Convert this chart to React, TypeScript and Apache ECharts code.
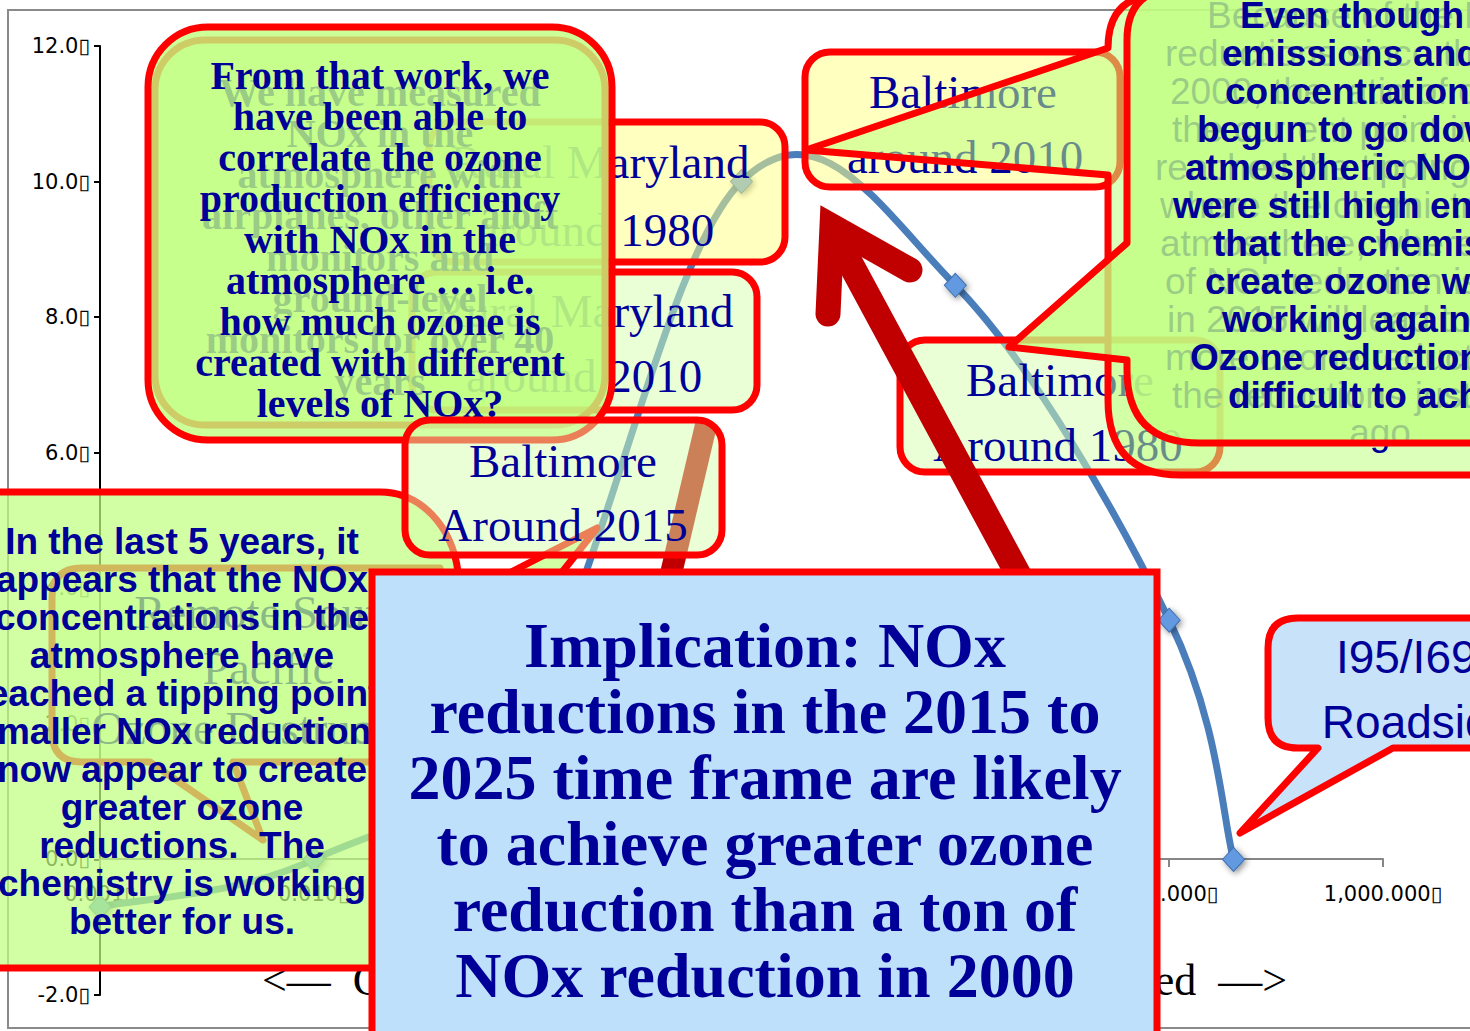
import React, { useEffect, useRef } from "react";
import * as echarts from "echarts";

// ---------------- data ----------------
const NOX_LEVELS = [0.001, 0.01, 0.1, 1, 10, 100, 200];
const OZONE_EFFICIENCY = [-0.7, 0, 2.3, 10, 8.47, 3.53, 0];
const Y_MIN = -2;
const Y_MAX = 12;
const Y_STEP = 2;
const X_MIN = 0.001;
const X_MAX = 1000;

const TOP_LEFT_TEXT = [
  "From that work, we",
  "have been able to",
  "correlate the ozone",
  "production efficiency",
  "with NOx in the",
  "atmosphere … i.e.",
  "how much ozone is",
  "created with different",
  "levels of NOx?",
];
const TOP_LEFT_OLD_TEXT = [
  "We have measured",
  "NOx in the",
  "atmosphere with",
  "airplanes, other aloft",
  "monitors and",
  "ground-level",
  "monitors for over 40",
  "years",
];
const LEFT_TEXT = [
  "In the last 5 years, it",
  "appears that the NOx",
  "concentrations in the",
  "atmosphere have",
  "reached a tipping point.",
  "Smaller NOx reductions",
  "now appear to create",
  "greater ozone",
  "reductions.  The",
  "chemistry is working",
  "better for us.",
];
const RIGHT_TEXT: [number, string][] = [
  [1240, "Even though NOx"],
  [1222, "emissions and"],
  [1225, "concentrations had"],
  [1197, "begun to go down,"],
  [1185, "atmospheric NOx levels"],
  [1173, "were still high enough"],
  [1213, "that the chemistry to"],
  [1205, "create ozone was"],
  [1222, "working against us."],
  [1190, "Ozone reductions were"],
  [1228, "difficult to achieve"],
];
const RIGHT_OLD_TEXT: [number, string][] = [
  [1207, "Because of the NOx"],
  [1165, "reductions since the"],
  [1170, "2000, the ratio of ozone"],
  [1172, "the current point in"],
  [1155, "reached the tipping point"],
  [1160, "where the chemistry in the"],
  [1160, "atmosphere, where each ton"],
  [1165, "of NOx reduction is more"],
  [1167, "in 2015 will lead to more"],
  [1165, "more ozone reduction than"],
  [1172, "the reductions just 15 years"],
];
const IMPLICATION_TEXT = [
  "Implication: NOx",
  "reductions in the 2015 to",
  "2025 time frame are likely",
  "to achieve greater ozone",
  "reduction than a ton of",
  "NOx reduction in 2000",
];

// ---------------- shapes ----------------
const SHAPES: Record<string, string> = {
  cbRightA:
    "M 1180 -12 L 1520 -12 L 1520 443 L 1200 443 Q 1127 443 1127 370 L 1127 360 L 1009 347 L 1127 243 L 1127 40 Q 1127 -12 1180 -12 Z",
  cbRightB:
    "M 1160 -5 L 1520 -5 L 1520 475 L 1180 475 Q 1108 475 1108 400 L 1108 175 L 806 150 L 1108 48 Q 1108 -5 1160 -5 Z",
  cbLeft:
    "M -20 492 L 380 492 C 420 492 452 525 458 572 L 472 592 L 597 528 L 540 600 L 540 968 L -20 968 Z",
  cbRemote:
    "M 82 568 L 440 568 L 440 762 L 233 762 L 263 840 L 150 762 L 82 762 Q 52 762 52 732 L 52 598 Q 52 568 82 568 Z",
  cbI95:
    "M 1298 618 L 1520 618 L 1520 748 L 1393 748 L 1240 833 L 1318 748 L 1298 748 Q 1268 748 1268 718 L 1268 648 Q 1268 618 1298 618 Z",
};
Object.keys(SHAPES).forEach((k) => {
  echarts.graphic.registerShape(k, echarts.graphic.extendPath(SHAPES[k], {}));
});

const NAVY = "#000099";
const RED = "#ff0000";
const SERIF = '"Liberation Serif", "Times New Roman", serif';
const SANS = '"Liberation Sans", Arial, sans-serif';
const AXISF = '"DejaVu Sans", sans-serif';

const GREEN_TOP = "rgba(192,255,128,0.8)";
const GREEN_LOW = "rgba(192,255,128,0.55)";
const GREEN_LEFT = "rgba(192,255,128,0.72)";
const LIGHT = "rgba(215,255,175,0.5)";
const YELLOW = "rgba(255,255,130,0.5)";

function T(text: string, x: number, y: number, font: string, fill = NAVY, align = "center") {
  return {
    type: "text",
    x,
    y,
    silent: true,
    style: {
      text,
      font,
      fill,
      align,
      verticalAlign: "middle",
      textAlign: align,
      textVerticalAlign: "middle",
    },
  };
}

function outline(extra: any = {}) {
  return { stroke: RED, lineWidth: 7, lineJoin: "round", ...extra };
}

function buildGraphics() {
  const els: any[] = [];
  const add = (...e: any[]) => e.forEach((x) => els.push(x));

  // chart frame
  add({ type: "rect", shape: { x: 8, y: 10, width: 1480, height: 1018 }, style: { fill: null, stroke: "#8a8a8a", lineWidth: 2 } });

  // x axis title (partly hidden)
  add(T("<—  Cleaner", 262, 980, `44px ${SERIF}`, "#000", "left"));
  add(T("More Polluted  —>", 1287, 980, `44px ${SERIF}`, "#000", "right"));

  // remote south pacific callout (under left callout)
  add({ type: "cbRemote", style: { fill: LIGHT, ...outline() } });
  add(T("Remote South", 268, 612, `47px ${SERIF}`));
  add(T("Pacific", 268, 668, `47px ${SERIF}`));
  add(T("Ozone Destruction", 268, 728, `47px ${SERIF}`));

  // Maryland boxes
  add({ type: "rect", shape: { x: 429, y: 122, width: 356, height: 140, r: 25 }, style: { fill: YELLOW, ...outline() } });
  add(T("Rural Maryland", 600, 162, `47px ${SERIF}`));
  add(T("around 1980", 596, 230, `47px ${SERIF}`));
  add({ type: "rect", shape: { x: 412, y: 272, width: 345, height: 138, r: 25 }, style: { fill: LIGHT, ...outline() } });
  add(T("Rural Maryland", 584, 311, `47px ${SERIF}`));
  add(T("around 2010", 584, 376, `47px ${SERIF}`));

  // top-left callouts
  add({ type: "rect", shape: { x: 155, y: 40, width: 450, height: 385, r: 50 }, style: { fill: GREEN_LOW, ...outline() } });
  TOP_LEFT_OLD_TEXT.forEach((s, i) => add(T(s, 380, 92 + i * 41.3, `bold 40px ${SERIF}`)));
  add({ type: "rect", shape: { x: 148, y: 27, width: 464, height: 413, r: 60 }, style: { fill: GREEN_TOP, ...outline() } });
  TOP_LEFT_TEXT.forEach((s, i) => add(T(s, 380, 75 + i * 41, `bold 40px ${SERIF}`)));

  // left callout
  add({ type: "cbLeft", style: { fill: GREEN_LEFT, ...outline() } });
  LEFT_TEXT.forEach((s, i) => add(T(s, 182, 541 + i * 38, `bold 37px ${SANS}`)));

  // second arrow shaft (under 2015 box)
  add({ type: "line", shape: { x1: 706, y1: 425, x2: 666, y2: 595 }, style: { stroke: "#c00000", lineWidth: 22 } });

  // Baltimore 2015
  add({ type: "rect", shape: { x: 405, y: 420, width: 317, height: 135, r: 25 }, style: { fill: LIGHT, ...outline() } });
  add(T("Baltimore", 563, 461, `47px ${SERIF}`));
  add(T("Around 2015", 563, 525, `47px ${SERIF}`));

  // Baltimore 1980
  add({ type: "rect", shape: { x: 900, y: 340, width: 320, height: 132, r: 25 }, style: { fill: LIGHT, ...outline() } });
  add(T("Baltimore", 1060, 380, `47px ${SERIF}`));
  add(T("Around 1980", 1058, 445, `47px ${SERIF}`));

  // big red arrow
  add({ type: "line", shape: { x1: 835, y1: 235, x2: 1032, y2: 600 }, style: { stroke: "#c00000", lineWidth: 26, lineCap: "round" } });
  add({
    type: "polyline",
    shape: { points: [[828, 314], [832, 226], [910, 270]] },
    style: { stroke: "#c00000", lineWidth: 25, lineCap: "round", lineJoin: "miter", fill: null },
  });

  // Baltimore 2010
  add({ type: "rect", shape: { x: 805, y: 52, width: 315, height: 135, r: 25 }, style: { fill: YELLOW, ...outline() } });
  add(T("Baltimore", 963, 92, `47px ${SERIF}`));
  add(T("around 2010", 965, 157, `47px ${SERIF}`));

  // right callouts
  add({ type: "cbRightB", style: { fill: GREEN_LOW, ...outline() } });
  RIGHT_OLD_TEXT.forEach(([x, s], i) => add(T(s, x, 15 + i * 38, `37px ${SANS}`, NAVY, "left")));
  add(T("ago", 1380, 432, `37px ${SANS}`));
  add({ type: "cbRightA", style: { fill: GREEN_TOP, ...outline() } });
  RIGHT_TEXT.forEach(([x, s], i) => add(T(s, x, 15 + i * 38, `bold 37px ${SANS}`, NAVY, "left")));

  // I95 callout
  add({ type: "cbI95", style: { fill: "rgba(170,210,248,0.65)", ...outline() } });
  add(T("I95/I695", 1419, 657, `46px ${SANS}`));
  add(T("Roadside", 1419, 722, `46px ${SANS}`));

  // implication box
  add({ type: "rect", shape: { x: 372, y: 572, width: 785, height: 480 }, style: { fill: "#bee0fb", stroke: RED, lineWidth: 7 } });
  IMPLICATION_TEXT.forEach((s, i) => add(T(s, 765, 645 + i * 66, `bold 64px ${SERIF}`)));

  els.forEach((e, i) => (e.z = 10 + i));
  return els;
}

function fmtX(v: number) {
  const n = Number(Number(v).toPrecision(6));
  return n.toLocaleString("en-US", { minimumFractionDigits: 3, maximumFractionDigits: 3 }) + "▯";
}

// smooth curve through the data points (pixel positions from the chart's own scales)
function renderCurve(params: any, api: any) {
  if (params.dataIndex !== 0) return null;
  const pts = NOX_LEVELS.map((x, i) => api.coord([x, OZONE_EFFICIENCY[i]]));
  const k = 1 / 5.5;
  const children: any[] = [];
  for (let i = 0; i < pts.length - 1; i++) {
    const p0 = pts[i - 1] || pts[i];
    const p1 = pts[i];
    const p2 = pts[i + 1];
    const p3 = pts[i + 2] || pts[i + 1];
    children.push({
      type: "bezierCurve",
      shape: {
        x1: p1[0],
        y1: p1[1],
        x2: p2[0],
        y2: p2[1],
        cpx1: p1[0] + (p2[0] - p0[0]) * k,
        cpy1: p1[1] + (p2[1] - p0[1]) * k,
        cpx2: p2[0] - (p3[0] - p1[0]) * k,
        cpy2: p2[1] - (p3[1] - p1[1]) * k,
      },
      style: { stroke: "#4a7ebb", lineWidth: 7, fill: null, lineCap: "round" },
    });
  }
  return { type: "group", children };
}

export default function App() {
  const ref = useRef<HTMLDivElement>(null);
  useEffect(() => {
    if (!ref.current) return;
    const chart = echarts.init(ref.current, undefined, { renderer: "svg" });
    const pairs = NOX_LEVELS.map((x, i) => [x, OZONE_EFFICIENCY[i]]);
    chart.setOption({
      animation: false,
      backgroundColor: "#ffffff",
      grid: { left: 100, right: 87, top: 46, bottom: 36, containLabel: false, outerBoundsMode: "none" },
      xAxis: {
        type: "log",
        logBase: 10,
        min: X_MIN,
        max: X_MAX,
        offset: -136,
        axisLine: { onZero: false, lineStyle: { color: "#868686", width: 2 } },
        axisTick: { show: true, length: 8, lineStyle: { color: "#868686", width: 2 } },
        axisLabel: { margin: 24, fontSize: 21, fontFamily: AXISF, color: "#000", formatter: fmtX },
        splitLine: { show: false },
        minorTick: { show: false },
      },
      yAxis: {
        type: "value",
        min: Y_MIN,
        max: Y_MAX,
        interval: Y_STEP,
        axisLine: { show: true, onZero: false, lineStyle: { color: "#000", width: 2 } },
        axisTick: { show: true, length: 6, lineStyle: { color: "#000", width: 2 } },
        axisLabel: { margin: 10, fontSize: 21, fontFamily: AXISF, color: "#000", formatter: (v: number) => v.toFixed(1) + "▯" },
        splitLine: { show: false },
      },
      series: [
        {
          type: "custom",
          coordinateSystem: "cartesian2d",
          data: [pairs[0]],
          encode: { x: 0, y: 1 },
          renderItem: renderCurve,
          silent: true,
          clip: false,
          z: 2,
        },
        {
          type: "line",
          data: pairs,
          symbol: "diamond",
          symbolSize: [22, 24],
          clip: false,
          lineStyle: { width: 0, opacity: 0 },
          itemStyle: {
            color: "#6399e0",
            borderColor: "#3f72b0",
            borderWidth: 1,
            shadowBlur: 6,
            shadowColor: "rgba(0,0,0,0.45)",
            shadowOffsetX: 2,
            shadowOffsetY: 2,
          },
          z: 3,
        },
      ],
      graphic: { elements: buildGraphics() },
    });
    return () => chart.dispose();
  }, []);
  return (
    <div
      ref={ref}
      style={{ position: "absolute", left: 0, top: 0, width: 1470, height: 1031, background: "#fff" }}
    />
  );
}
